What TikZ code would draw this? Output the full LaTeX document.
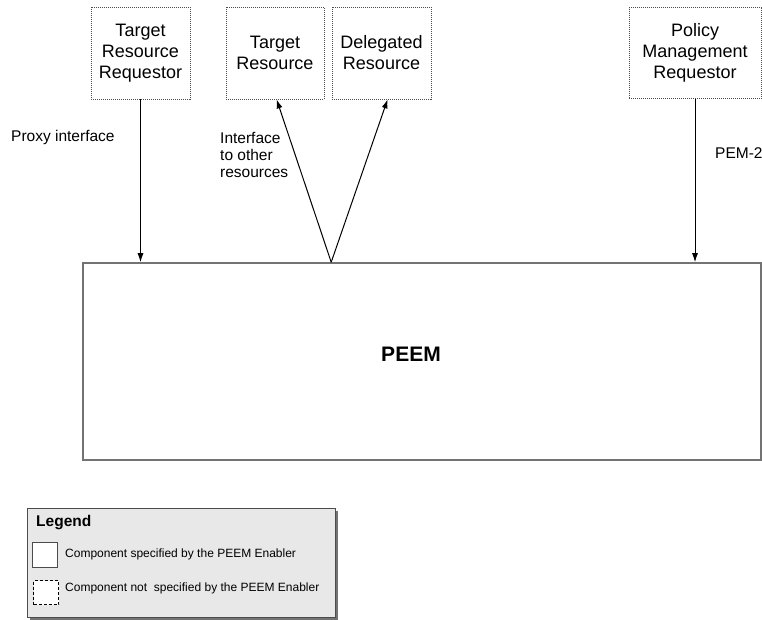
\documentclass[tikz,border=0pt]{standalone}
\usepackage{fontspec}
\setmainfont{Liberation Sans}
\usetikzlibrary{arrows.meta,calc}
\begin{document}
\begin{tikzpicture}[x=1pt,y=-1pt,
  extbox/.style={draw=black!70, line width=0.8pt, dash pattern=on 1pt off 1pt,
    align=center, inner sep=0pt, font=\fontsize{18}{21}\selectfont},
  corebox/.style={draw=black!55, line width=1.6pt, inner sep=0pt},
  link/.style={line width=1pt, -{Latex[length=9pt,width=6pt]}},
  lbl/.style={font=\fontsize{15.5}{17}\selectfont, inner sep=0pt, align=left},
  legtext/.style={font=\fontsize{12}{14}\selectfont, inner sep=0pt, anchor=west}]
\useasboundingbox (0,0) rectangle (762,619);

% external components
\node[extbox, minimum width=99pt, minimum height=92pt] (trr) at (140.5,53) {Target\\Resource\\Requestor};
\node[extbox, minimum width=98pt, minimum height=92pt] (tr) at (275,53) {Target\\Resource};
\node[extbox, minimum width=99pt, minimum height=92pt] (dr) at (381.5,53) {Delegated\\Resource};
\node[extbox, minimum width=132pt, minimum height=91pt] (pmr) at (695,53) {Policy\\Management\\Requestor};

% the enabler
\node[corebox, minimum width=678pt, minimum height=197pt] (peem) at (422,361.5) {};
\node[font=\bfseries\fontsize{21}{25}\selectfont, inner sep=0pt] (peemlbl) at (411,354) {PEEM};

% interfaces
\coordinate (fork) at ($(peem.north west)+(249,0)$);
\coordinate (trin) at ($(tr.south west)+(51,0)$);
\coordinate (drin) at ($(dr.south west)+(56,0)$);
\draw[link] (trr.south) -- (trr.south |- peem.north);
\draw[link] (pmr.south) -- (pmr.south |- peem.north);
\draw[link] (fork) -- (trin);
\draw[link] (fork) -- (drin);

\node[lbl, anchor=west] (proxy) at (11,137) {Proxy interface};
\node[lbl, anchor=west] (other) at (220,155) {Interface\\to other\\resources};
\node[lbl, anchor=west] (pem2) at (715,153) {PEM-2};

% legend
\fill[black!55] (30,511) rectangle (338,620);
\node[draw=black!70, line width=1pt, fill=black!9, minimum width=308pt, minimum height=109pt, inner sep=0pt] (legend) at (181,562.5) {};
\node[font=\bfseries\fontsize{15.5}{17}\selectfont, inner sep=0pt, anchor=west] (legtitle) at (36,523) {Legend};
\node[draw=black!70, line width=1pt, fill=white, minimum width=25pt, minimum height=25pt, inner sep=0pt] (solidkey) at (44.5,554.5) {};
\node[legtext] (solidtxt) at (65,554) {Component specified by the PEEM Enabler};
\node[draw=black, line width=0.8pt, dash pattern=on 3pt off 2pt, fill=white, minimum width=25pt, minimum height=24pt, inner sep=0pt] (dashkey) at (46,592.5) {};
\node[legtext] (dashtxt) at (65,588) {Component not\ \ specified by the PEEM Enabler};
\end{tikzpicture}
\end{document}
